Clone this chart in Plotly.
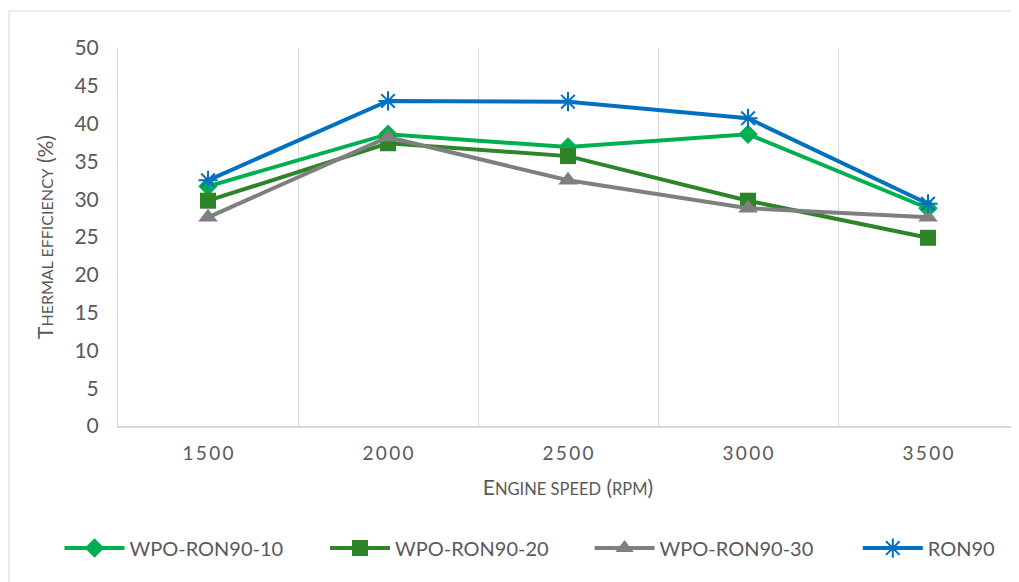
import plotly.graph_objects as go

# Engine speed categories (rpm)
speeds = ["1500", "2000", "2500", "3000", "3500"]
speed_labels = ["1\u20095\u20090\u20090", "2\u20090\u20090\u20090", "2\u20095\u20090\u20090",
                "3\u20090\u20090\u20090", "3\u20095\u20090\u20090"]

# Thermal efficiency (%)
wpo_10 = [31.7, 38.6, 36.9, 38.6, 28.8]
wpo_20 = [29.8, 37.4, 35.7, 29.8, 24.9]
wpo_30 = [27.6, 38.2, 32.5, 28.8, 27.6]
ron90 = [32.5, 43.0, 42.9, 40.7, 29.4]

y_ticks = list(range(0, 51, 5))

FONT = "Lato, 'Open Sans', sans-serif"
GRAY = "#595959"
GRID = "#D9D9D9"

fig = go.Figure()

series = [
    ("WPO-RON90-10", wpo_10, "#00B050", "diamond", 15, "legend"),
    ("WPO-RON90-20", wpo_20, "#2E8529", "square", 16, "legend2"),
    ("WPO-RON90-30", wpo_30, "#7F7F7F", "triangle-up", 17, "legend3"),
]
for name, vals, color, symbol, size, leg in series:
    fig.add_trace(go.Scatter(
        x=speeds, y=vals, name=name, mode="lines+markers", legend=leg,
        line=dict(color=color, width=4),
        marker=dict(symbol=symbol, size=size, color=color),
    ))

fig.add_trace(go.Scatter(
    x=speeds, y=ron90, name="RON90", mode="lines+markers", legend="legend4",
    line=dict(color="#0070C0", width=4),
    marker=dict(symbol="asterisk-open", size=16, color="#0070C0",
                line=dict(color="#0070C0", width=2)),
))

# one legend per series so the entries sit where Excel put them
def leg(x):
    return dict(orientation="h", x=x, xanchor="left", y=-0.323, yanchor="middle",
                font=dict(size=20, color=GRAY), itemwidth=60, bgcolor="rgba(0,0,0,0)")

# the page body adds an 8px offset, so the figure is drawn 8px smaller
fig.update_layout(
    width=1011, height=574,
    paper_bgcolor="white", plot_bgcolor="white",
    font=dict(family=FONT, color=GRAY, size=17),
    margin=dict(l=110, r=1, t=40, b=156, autoexpand=False),
    showlegend=True,
    legend=leg(-0.065), legend2=leg(0.23), legend3=leg(0.524), legend4=leg(0.822),
    xaxis=dict(
        type="category", tickson="boundaries", showgrid=True, gridcolor=GRID,
        gridwidth=1, showline=True, linecolor=GRID, linewidth=2, ticks="",
        tickmode="array", tickvals=speeds, ticktext=speed_labels,
        tickfont=dict(size=19, color=GRAY), ticklabelstandoff=9,
        automargin=False,
        title=dict(text="E<span style='font-size:16.5px'>NGINE SPEED</span> (<span style='font-size:16.5px'>RPM</span>)",
                   font=dict(size=21, color=GRAY), standoff=18),
        range=[-0.5, 4.5],
    ),
    yaxis=dict(
        range=[0, 50], tickvals=y_ticks, showgrid=False, zeroline=False,
        showline=True, linecolor=GRID, linewidth=1, ticks="",
        tickfont=dict(size=21, color=GRAY), ticklabelstandoff=14,
        automargin=False,
        title=dict(text="T<span style='font-size:16px'>HERMAL EFFICIENCY</span> (%)",
                   font=dict(size=21, color=GRAY)),
    ),
    shapes=[dict(type="rect", xref="paper", yref="paper",
                 x0=-0.121, x1=1.2, y0=-0.6, y1=1.098,
                 line=dict(color=GRID, width=1), fillcolor="rgba(0,0,0,0)",
                 layer="below")],
)

fig.write_html("out.html")
